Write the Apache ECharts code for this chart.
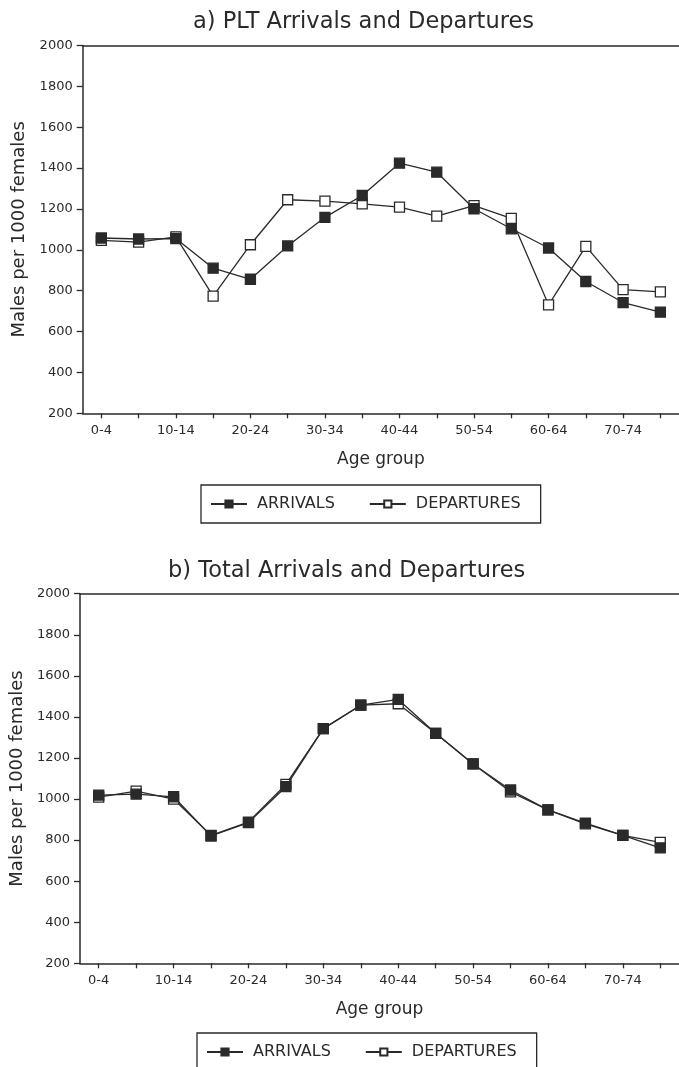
<!DOCTYPE html>
<html>
<head>
<meta charset="utf-8">
<script src="https://cdn.jsdelivr.net/npm/echarts@6/dist/echarts.min.js"></script>
<style>
html,body{margin:0;padding:0;background:#fff;}
#main{width:679px;height:1067px;}
</style>
</head>
<body>
<div id="main"></div>
<script>
const categories = ['0-4','5-9','10-14','15-19','20-24','25-29','30-34','35-39','40-44','45-49','50-54','55-59','60-64','65-69','70-74','75+'];
const yTicks = [200, 2000, 200]; // min, max, interval
const pltArrivals   = [1058,1053,1055,910,856,1019,1159,1266,1424,1380,1201,1103,1009,845,742,695];
const pltDepartures = [1046,1038,1063,773,1025,1245,1238,1225,1209,1165,1216,1154,731,1017,805,794];
const totalArrivals   = [1019,1024,1011,820,885,1060,1343,1457,1485,1320,1171,1044,947,883,823,762];
const totalDepartures = [1009,1039,1000,823,888,1071,1343,1457,1464,1320,1171,1035,947,879,823,789];
const titles = ['a) PLT Arrivals and Departures','b) Total Arrivals and Departures'];
const yName = 'Males per 1000 females';
const xName = 'Age group';

const FONT = 'DejaVu Sans';
const INK = '#2a2a2a';

const chart = echarts.init(document.getElementById('main'), null, {renderer:'canvas'});

function xAxisCfg(gi){
  return {
    type:'category', gridIndex:gi, data:categories, boundaryGap:true, position:'bottom',
    name:xName, nameLocation:'middle', nameGap:38,
    nameTextStyle:{fontFamily:FONT,fontSize:17,color:INK},
    axisLine:{lineStyle:{color:INK,width:1.5}},
    axisTick:{show:true,alignWithLabel:true,interval:0,length:5,lineStyle:{color:INK,width:1.3}},
    axisLabel:{interval:1,fontFamily:FONT,fontSize:13,color:INK,margin:11},
    splitLine:{show:false}
  };
}
function xTopCfg(gi){
  return {
    type:'category', gridIndex:gi, data:categories, boundaryGap:true, position:'top',
    axisLine:{show:true,lineStyle:{color:INK,width:1.5}},
    axisTick:{show:false}, axisLabel:{show:false}, splitLine:{show:false}
  };
}
function yAxisCfg(gi){
  return {
    type:'value', gridIndex:gi, min:yTicks[0], max:yTicks[1], interval:yTicks[2],
    name:yName, nameLocation:'middle', nameGap:52,
    nameTextStyle:{fontFamily:FONT,fontSize:18,color:INK},
    axisLine:{show:true,lineStyle:{color:INK,width:1.5}},
    axisTick:{show:true,length:6,lineStyle:{color:INK,width:1.3}},
    axisLabel:{fontFamily:FONT,fontSize:13,color:INK,margin:10,formatter:function(v){return String(v);}},
    splitLine:{show:false}
  };
}
function seriesCfg(name, data, gi, filled){
  return {
    name:name, type:'line', xAxisIndex:gi, yAxisIndex:gi, data:data,
    symbol:'rect', symbolSize:10,
    lineStyle:{color:INK,width:1.3},
    itemStyle:{color: filled ? INK : '#fff', borderColor:INK, borderWidth:1.3},
    emphasis:{disabled:true}, animation:false, z: filled ? 3 : 2
  };
}
function legendCfg(gi, left, top){
  return {
    show:true, data:['ARRIVALS','DEPARTURES'], orient:'horizontal',
    left:left, top:top, itemWidth:36, itemHeight:9, itemGap:34,
    borderColor:INK, borderWidth:1.3, padding:[11,20,11,9],
    textStyle:{fontFamily:FONT,fontSize:16,color:INK,padding:[0,0,0,5]},
    selectedMode:false
  };
}

chart.setOption({
  backgroundColor:'#fff',
  animation:false,
  title:[
    {text:titles[0], left:188, top:6, textStyle:{fontFamily:FONT,fontSize:22.5,fontWeight:'normal',color:INK}},
    {text:titles[1], left:163, top:555, textStyle:{fontFamily:FONT,fontSize:22.5,fontWeight:'normal',color:INK}}
  ],
  grid:[
    {left:82.7, width:600, top:45.5, height:367.8, show:false},
    {left:80, width:601, top:593.7, height:369.6, show:false}
  ],
  xAxis:[xAxisCfg(0), xAxisCfg(1), xTopCfg(0), xTopCfg(1)],
  yAxis:[yAxisCfg(0), yAxisCfg(1)],
  legend:[legendCfg(0, 201, 485), legendCfg(1, 197, 1033)],
  series:[
    seriesCfg('DEPARTURES', pltDepartures, 0, false),
    seriesCfg('ARRIVALS', pltArrivals, 0, true),
    seriesCfg('DEPARTURES', totalDepartures, 1, false),
    seriesCfg('ARRIVALS', totalArrivals, 1, true)
  ]
});
</script>
</body>
</html>
